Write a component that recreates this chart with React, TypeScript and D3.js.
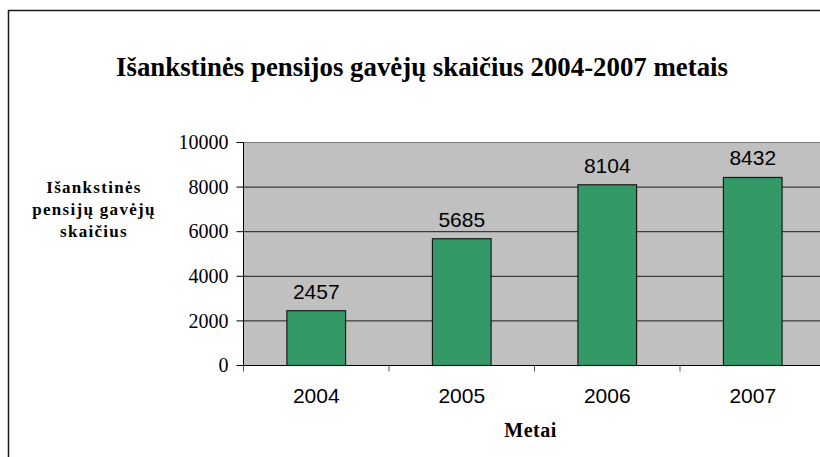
import React from "react";
import * as d3 from "d3";

const years = ["2004", "2005", "2006", "2007"];
const values = [2457, 5685, 8104, 8432];
const yTicks = [0, 2000, 4000, 6000, 8000, 10000];
const titleText = "Išankstinės pensijos gavėjų skaičius 2004-2007 metais";
const yTitleLines = ["Išankstinės", "pensijų gavėjų", "skaičius"];
const xTitle = "Metai";

export default function App() {
  const W = 820, H = 457;
  const left = 243.5, right = 825.5, top = 142.5, bottom = 365.5;
  const x = d3.scaleBand<string>().domain(years).range([left, right]).paddingInner(0).paddingOuter(0);
  const y = d3.scaleLinear().domain([0, 10000]).range([bottom, top]);
  const barW = x.bandwidth() * 0.403;
  const serif = "'Liberation Serif', 'Times New Roman', Times, serif";
  const sans = "'Liberation Sans', Arial, sans-serif";
  return (
    <svg width={W} height={H} style={{ position: "absolute", left: 0, top: 0, background: "#fff" }}>
      <rect x={8.5} y={10.5} width={900} height={600} fill="#fff" stroke="#1a1a1a" strokeWidth={1.5} />
      <text x={422} y={76} textAnchor="middle" fontFamily={serif} fontWeight="bold" fontSize={27} textLength={612} lengthAdjust="spacingAndGlyphs" fill="#000">{titleText}</text>
      <rect x={left} y={top} width={right - left} height={bottom - top} fill="#c0c0c0" stroke="#808080" strokeWidth={1} />
      {yTicks.map((t) => (
        <g key={t}>
          {t > 0 && t < 10000 && <line x1={left} x2={right} y1={y(t)} y2={y(t)} stroke="#1a1a1a" strokeWidth={1} />}
          <line x1={left - 7} x2={left} y1={y(t)} y2={y(t)} stroke="#000" strokeWidth={1} />
          <text x={228.5} y={y(t)} dy="0.33em" textAnchor="end" fontFamily={serif} fontSize={20} fill="#000">{t}</text>
        </g>
      ))}
      <line x1={left} x2={left} y1={top} y2={bottom} stroke="#000" strokeWidth={1} />
      <line x1={left} x2={right} y1={bottom} y2={bottom} stroke="#000" strokeWidth={1} />
      {years.map((yr) => (
        <line key={"t" + yr} x1={x(yr)!} x2={x(yr)!} y1={bottom} y2={bottom + 6} stroke="#555" strokeWidth={1} />
      ))}
      {years.map((yr, i) => {
        const cx = x(yr)! + x.bandwidth() / 2;
        return (
          <g key={yr}>
            <rect x={cx - barW / 2} y={y(values[i])} width={barW} height={bottom - y(values[i])} fill="#339966" stroke="#1a1a1a" strokeWidth={1.2} />
            <text x={cx} y={y(values[i]) - 12} textAnchor="middle" fontFamily={sans} fontSize={21} fill="#000">{values[i]}</text>
            <text x={cx} y={403} textAnchor="middle" fontFamily={sans} fontSize={21} fill="#000">{yr}</text>
          </g>
        );
      })}
      <text x={(left + right) / 2 - 4} y={437} textAnchor="middle" fontFamily={serif} fontWeight="bold" fontSize={20} letterSpacing={0.5} fill="#000">{xTitle}</text>
      {yTitleLines.map((l, i) => (
        <text key={l} x={94} y={193 + i * 22} textAnchor="middle" fontFamily={serif} fontWeight="bold" fontSize={17} letterSpacing={1.3} fill="#000">{l}</text>
      ))}
    </svg>
  );
}
